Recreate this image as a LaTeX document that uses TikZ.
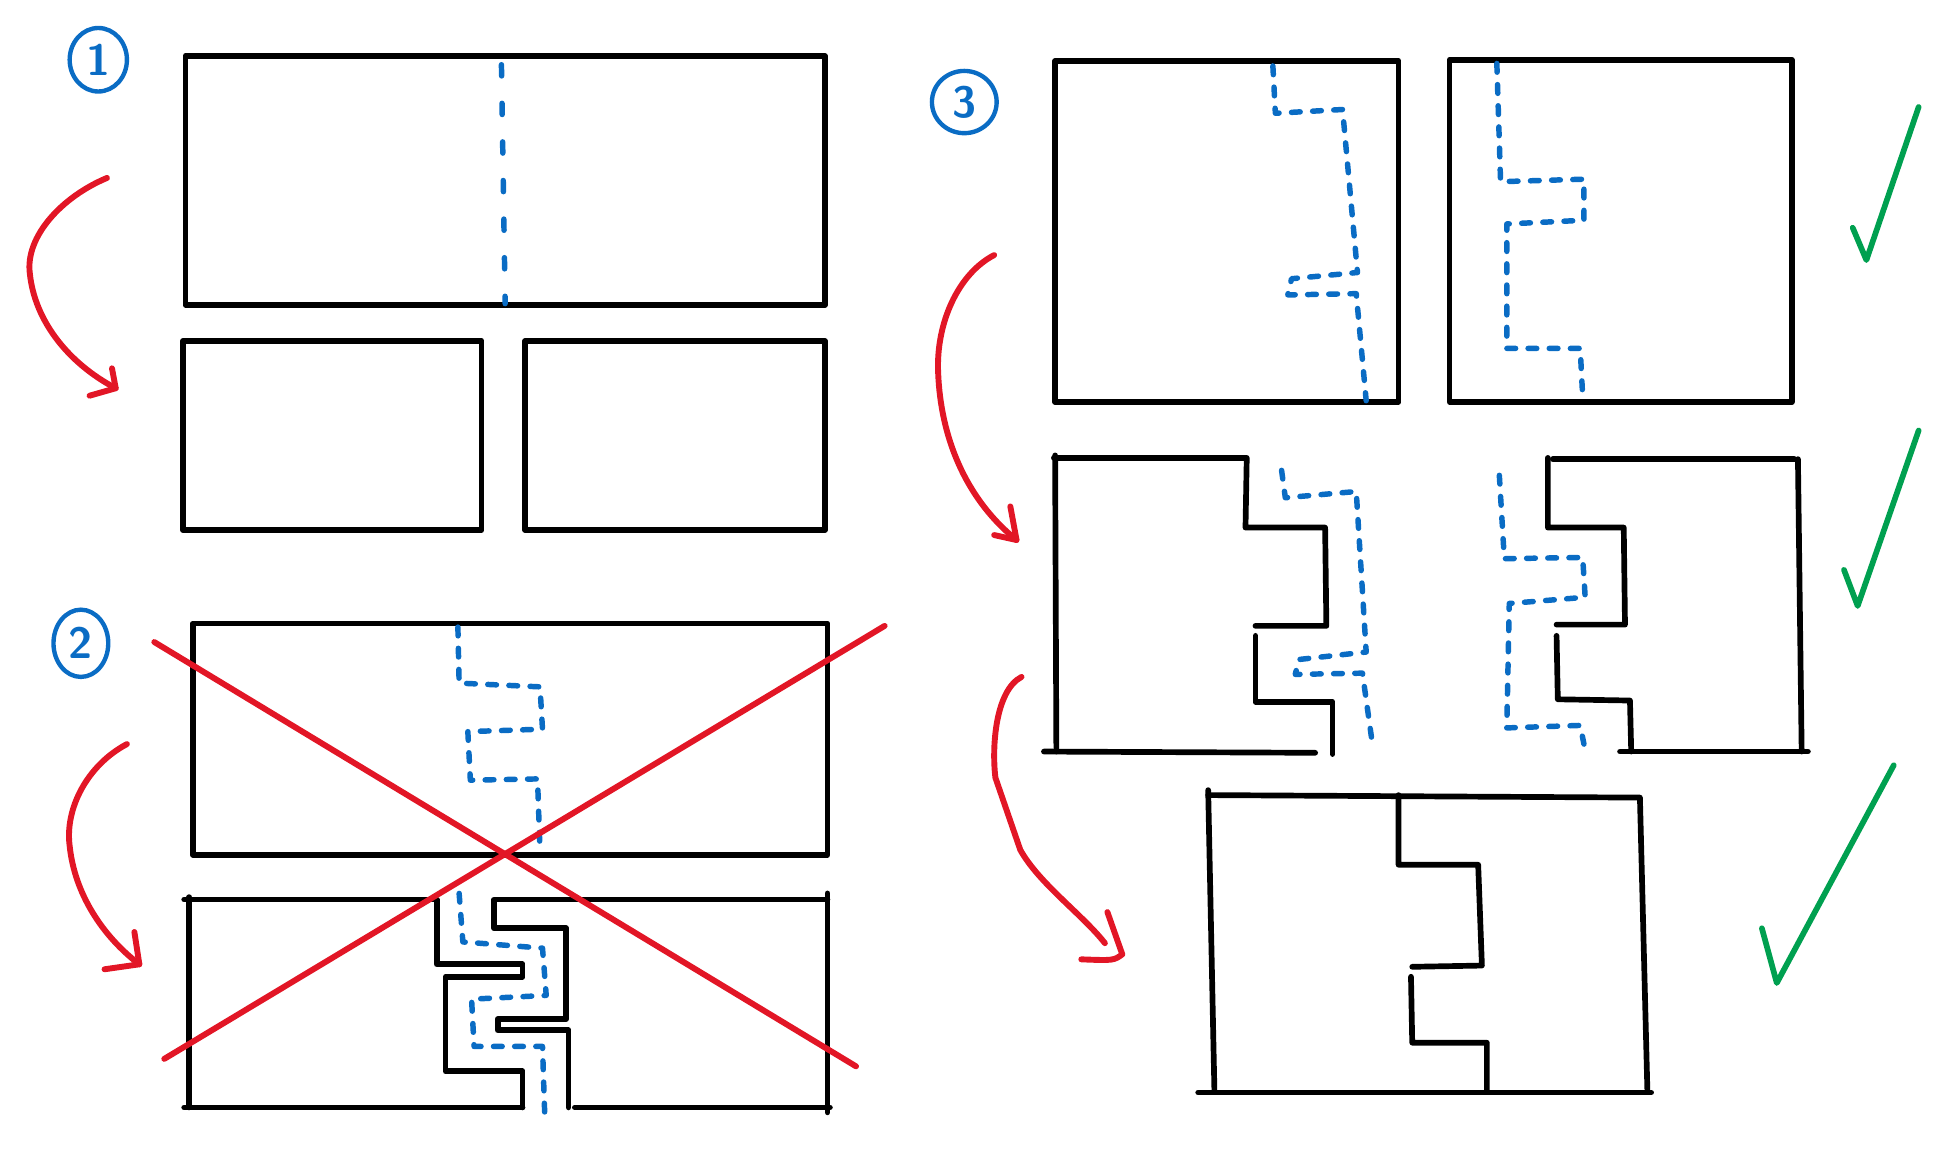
\documentclass[tikz,border=0pt]{standalone}
\usetikzlibrary{shapes.geometric}
\definecolor{inkblue}{RGB}{10,108,196}
\definecolor{inkred}{RGB}{226,22,38}
\definecolor{inkgreen}{RGB}{0,160,80}
\tikzset{
  wall/.style={line width=1.3pt, line cap=round, line join=round, black},
  cutline/.style={line width=1.25pt, inkblue, dash pattern=on 0.07cm off 0.1cm, line cap=round, line join=round},
  redpen/.style={line width=1.35pt, inkred, line cap=round, line join=round},
  greenpen/.style={line width=1.3pt, inkgreen, line cap=round, line join=round},
  lbl/.style={ellipse, draw=inkblue, line width=1pt, text=inkblue, font=\fontsize{10}{12}\sffamily\bfseries, inner sep=0pt}
}
\begin{document}
\begin{tikzpicture}[x=0.01cm,y=-0.01cm]
\useasboundingbox (0,0) rectangle (1568,923);

% ---------- labels ----------
\node[lbl, minimum width=0.46cm, minimum height=0.51cm] (l1) at (79,48) {1};
\node[lbl, minimum width=0.44cm, minimum height=0.54cm] (l2) at (65,517) {2};
\node[lbl, minimum width=0.52cm, minimum height=0.50cm] (l3) at (775,82) {3};

% ---------- panel 1 ----------
\draw[wall] (149,45) rectangle (663,245);
\draw[cutline, dash pattern=on 0.09cm off 0.22cm] (403,52) -- (406,244);
\draw[wall] (147,274) rectangle (387,426);
\draw[wall] (422,274) rectangle (663,426);
\coordinate (a1s) at (86,143);
\coordinate (a1e) at (93,312);
\draw[redpen] (a1s) .. controls (50,158) and (20,190) .. (24,220) .. controls (28,258) and (55,292) .. (a1e);
\draw[redpen] (90,296) -- (a1e) -- (72,318);

% ---------- panel 2 ----------
\draw[wall] (155,501) rectangle (665,687);
\draw[cutline] (368,504) -- (369,549) -- (434,552) -- (436,586) -- (376,588) -- (378,627) -- (432,626) -- (434,684);
% bottom left piece
\draw[wall] (148,723) -- (351,723) -- (351,775) -- (420,775) -- (420,785) -- (358,785) -- (358,861) -- (420,861) -- (420,890);
\draw[wall] (152,721) -- (152,890);
\draw[wall] (148,890) -- (420,890);
% bottom right piece
\draw[wall] (665,723) -- (397,723) -- (397,746) -- (455,746) -- (455,819) -- (400,819) -- (400,828) -- (457,828) -- (457,890);
\draw[wall] (462,890) -- (667,890);
\draw[wall] (665,718) -- (665,894);
\draw[cutline] (369,718) -- (372,757) -- (436,762) -- (439,800) -- (379,803) -- (381,841) -- (436,841) -- (438,902);
\coordinate (a2s) at (102,598);
\coordinate (a2e) at (112,775);
\draw[redpen] (a2s) .. controls (70,615) and (52,650) .. (56,680) .. controls (60,718) and (82,752) .. (a2e);
\draw[redpen] (108,749) -- (a2e) -- (84,779);
% red cross
\coordinate (x1a) at (124,516);
\coordinate (x1b) at (688,857);
\coordinate (x2a) at (711,503);
\coordinate (x2b) at (132,851);
\draw[redpen] (x1a) -- (x1b);
\draw[redpen] (x2a) -- (x2b);

% ---------- panel 3 ----------
\draw[wall] (848,49) rectangle (1124,323);
\draw[wall] (1165,48) rectangle (1440,323);
\draw[cutline] (1023,53) -- (1025,91) -- (1079,88) -- (1091,219) -- (1038,224) -- (1035,237) -- (1090,236) -- (1098,322);
\draw[cutline] (1203,51) -- (1206,146) -- (1273,144) -- (1273,177) -- (1211,180) -- (1211,280) -- (1270,280) -- (1272,319);

% middle left piece
\draw[wall] (847,368) -- (1002,368) -- (1001,424) -- (1065,424) -- (1066,503) -- (1009,503);
\draw[wall] (1009,511) -- (1009,564) -- (1071,564) -- (1071,606);
\draw[wall] (839,604) -- (1057,605);
\draw[wall] (848,366) -- (849,604);
% middle right piece
\draw[wall] (1248,369) -- (1442,369);
\draw[wall] (1244,368) -- (1244,424) -- (1305,424) -- (1306,502) -- (1251,502);
\draw[wall] (1251,511) -- (1252,562) -- (1310,563) -- (1311,604);
\draw[wall] (1302,604) -- (1453,604);
\draw[wall] (1445,369) -- (1448,604);
\draw[cutline] (1030,378) -- (1033,400) -- (1090,395) -- (1098,524) -- (1044,530) -- (1041,542) -- (1095,541) -- (1103,598);
\draw[cutline] (1205,382) -- (1209,449) -- (1272,448) -- (1274,480) -- (1213,485) -- (1211,585) -- (1270,583) -- (1273,598);

% bottom joined piece
\draw[wall] (971,635) -- (976,876);
\draw[wall] (971,639) -- (1318,641) -- (1324,877);
\draw[wall] (963,878) -- (1327,878);
\draw[wall] (1124,639) -- (1124,695) -- (1188,695) -- (1191,776) -- (1135,777);
\draw[wall] (1134,785) -- (1135,838) -- (1195,838) -- (1195,877);

% red arrows panel 3
\coordinate (a3s) at (799,205);
\coordinate (a3e) at (817,434);
\draw[redpen] (a3s) .. controls (770,220) and (752,260) .. (754,300) .. controls (756,350) and (775,400) .. (a3e);
\draw[redpen] (812,407) -- (a3e) -- (799,430);
\coordinate (a4s) at (821,544);
\coordinate (a4e) at (902,767);
\draw[redpen] (a4s) .. controls (800,555) and (797,600) .. (800,625) -- (820,683) .. controls (835,710) and (870,735) .. (888,758);
\draw[redpen] (890,733) -- (a4e) .. controls (895,772) .. (869,771);

% green ticks
\coordinate (g1) at (1500,209);
\coordinate (g2) at (1493,487);
\coordinate (g3) at (1428,790);
\draw[greenpen] (1489,183) -- (g1) -- (1542,86);
\draw[greenpen] (1482,458) -- (g2) -- (1542,346);
\draw[greenpen] (1416,746) -- (g3) -- (1522,615);
\end{tikzpicture}
\end{document}
